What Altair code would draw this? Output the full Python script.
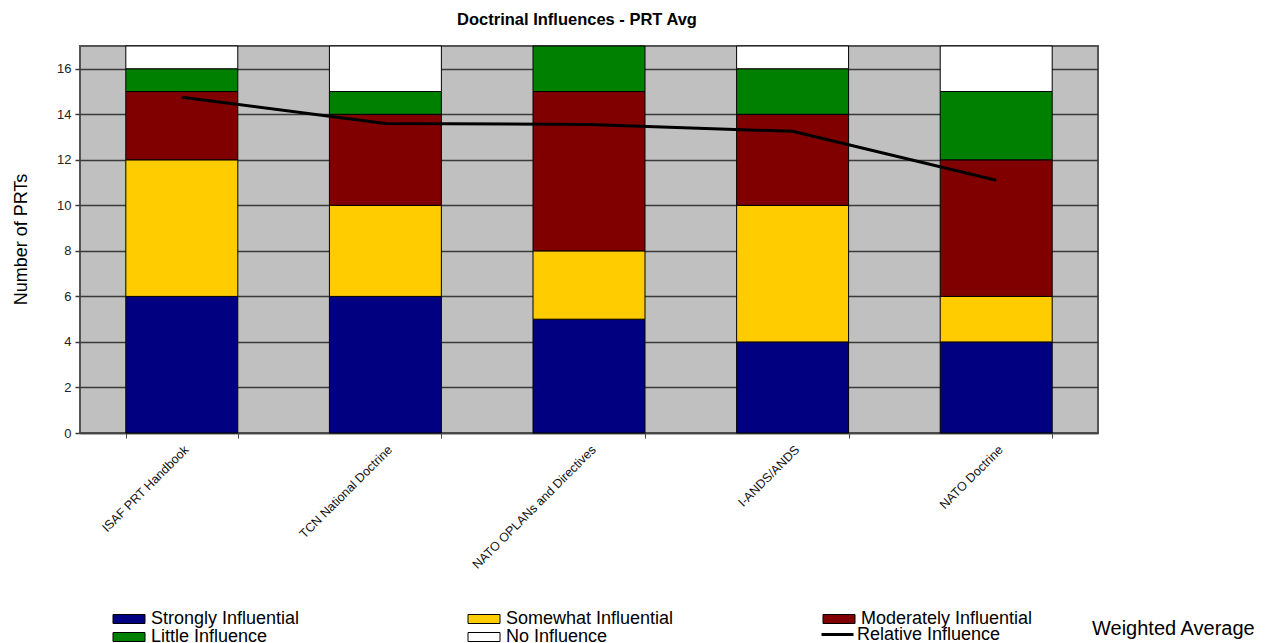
import altair as alt
import pandas as pd

categories = ["ISAF PRT Handbook", "TCN National Doctrine", "NATO OPLANs and Directives",
              "I-ANDS/ANDS", "NATO Doctrine"]
series_names = ["Strongly Influential", "Somewhat Influential", "Moderately Influential",
                "Little Influence", "No Influence"]
strongly = [6, 6, 5, 4, 4]
somewhat = [6, 4, 3, 6, 2]
moderately = [3, 4, 7, 4, 6]
little = [1, 1, 2, 2, 3]
no_influence = [1, 2, 0, 1, 2]
relative_influence = [14.75, 13.6, 13.55, 13.25, 11.1]
series_colors = ["#000080", "#FFCC00", "#800000", "#008000", "#FFFFFF"]
chart_title = "Doctrinal Influences - PRT Avg"
side_note = "Weighted Average"

FONT = "Liberation Sans"
W, H = 1018, 387

rows = []
for s_idx, (name, vals) in enumerate(zip(series_names,
                                         [strongly, somewhat, moderately, little, no_influence])):
    for cat, v in zip(categories, vals):
        if v > 0:
            rows.append({"category": cat, "series": name, "value": v, "order": s_idx})
bar_df = pd.DataFrame(rows)
line_df = pd.DataFrame({"category": categories, "value": relative_influence,
                        "line": ["Relative Influence"] * len(categories)})
note_df = pd.DataFrame({"t": [side_note]})
title_df = pd.DataFrame({"t": [chart_title]})

x_enc = alt.X("category:N", sort=categories, title=None,
              scale=alt.Scale(paddingInner=0.45, paddingOuter=0.225),
              axis=alt.Axis(labelAngle=-45, labelFontSize=12.5, labelFont=FONT, labelColor="#111111",
                            tickBand="extent", ticks=True, tickSize=5, tickColor="#444444",
                            domainColor="#444444", domainWidth=1.5, labelPadding=5,
                            labelLimit=400))

bars = alt.Chart(bar_df).mark_bar(stroke="black", strokeWidth=1).encode(
    x=x_enc,
    y=alt.Y("value:Q", stack="zero", title="Number of PRTs",
            scale=alt.Scale(domain=[0, 17], nice=False),
            axis=alt.Axis(values=list(range(0, 17, 2)), labelFontSize=13, labelFont=FONT,
                          labelColor="#222222", grid=True, gridColor="#3a3a3a", gridWidth=1.5,
                          tickSize=5, tickColor="#3a3a3a", tickWidth=1.5, domain=False,
                          labelPadding=4, titleFont=FONT, titleFontSize=18,
                          titleFontWeight="normal", titleColor="#000000",
                          titleX=-59, titleY=193, titleBaseline="middle", titleAlign="center")),
    fill=alt.Fill("series:N", sort=series_names,
                  scale=alt.Scale(domain=series_names, range=series_colors),
                  legend=alt.Legend(title=None, orient="none", legendX=40, legendY=564,
                                    direction="horizontal",
                                    columns=3, columnPadding=143, rowPadding=-3,
                                    gridAlign="all",
                                    symbolType="M-3.2,-0.9H3.2V0.9H-3.2Z", symbolSize=100,
                                    symbolStrokeColor="black", symbolStrokeWidth=1,
                                    labelFont=FONT, labelFontSize=18, labelOffset=13,
                                    labelColor="#000000", labelLimit=300)),
    order=alt.Order("order:Q", sort="ascending"),
)

line = alt.Chart(line_df).mark_line(strokeWidth=3).encode(
    x=alt.X("category:N", sort=categories),
    y=alt.Y("value:Q"),
    stroke=alt.Stroke("line:N", scale=alt.Scale(domain=["Relative Influence"], range=["black"]),
                      legend=alt.Legend(title=None, orient="none", legendX=740, legendY=571,
                                        symbolType="stroke", symbolSize=1024,
                                        symbolStrokeWidth=3, labelFont=FONT, labelFontSize=18,
                                        labelOffset=2, labelColor="#000000")),
)

note = alt.Chart(note_df).mark_text(align="left", baseline="middle", fontSize=20,
                                    font=FONT, color="black").encode(
    text="t:N", x=alt.value(1012), y=alt.value(583))

title = alt.Chart(title_df).mark_text(align="center", baseline="alphabetic", fontSize=16.5,
                                      fontWeight="bold", font=FONT, color="black").encode(
    text="t:N", x=alt.value(W / 2 - 12), y=alt.value(-21))

chart = alt.layer(bars, line, note, title).properties(
    width=W, height=H,
    background="white",
    autosize=alt.AutoSizeParams(type="none"),
    padding={"left": 72, "top": 38, "right": 160, "bottom": 210},
).configure_view(fill="#C0C0C0", stroke="#555555", strokeWidth=2)

chart.save("out.html", embed_options={"renderer": "svg", "actions": False})
